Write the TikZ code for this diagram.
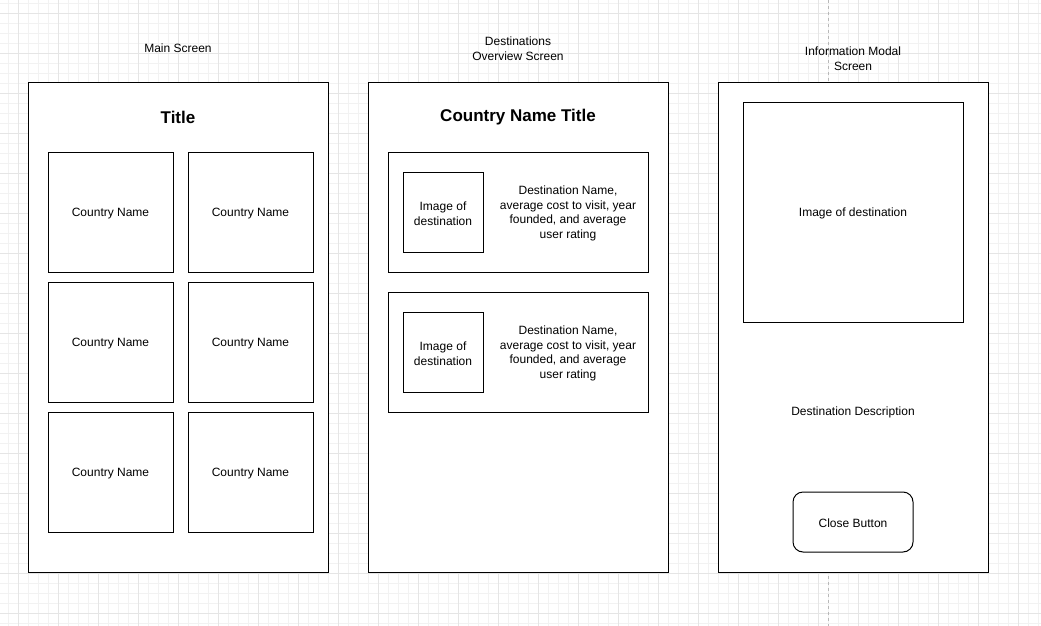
\documentclass[tikz,border=0pt]{standalone}
\usepackage{fontspec}
\setmainfont{Liberation Sans}
\begin{document}
\begin{tikzpicture}[x=1pt,y=-1pt,
  minorline/.style={draw=black!5, line width=0.8pt},
  majorline/.style={draw=black!10, line width=0.8pt},
  pagebreak/.style={draw=black!28, line width=0.8pt, dash pattern=on 3pt off 3pt},
  screenbox/.style={draw=black, fill=white, line width=1pt, inner sep=0pt},
  itembox/.style={draw=black, fill=white, line width=1pt, inner sep=0pt},
  closebtn/.style={itembox, rounded corners=10pt},
  lbl/.style={align=center, inner sep=0pt, yshift=-1.5pt, font=\fontsize{12}{14.7}\selectfont},
  ttl/.style={align=center, inner sep=0pt, yshift=-1.5pt, font=\fontsize{17}{19}\selectfont\bfseries}]
\useasboundingbox (0,0) rectangle (1041,626);
\fill[white] (0,0) rectangle (1041,626);
% grid
\foreach \gx in {8,18,...,1040} {\draw[minorline] (\gx,0) -- (\gx,626);}
\foreach \gy in {3,13,...,625} {\draw[minorline] (0,\gy) -- (1041,\gy);}
\foreach \gx in {18,58,...,1040} {\draw[majorline] (\gx,0) -- (\gx,626);}
\foreach \gy in {13,53,...,625} {\draw[majorline] (0,\gy) -- (1041,\gy);}
% page break
\coordinate (pbtop) at (828,0);
\coordinate (pbbot) at (828,626);
\draw[pagebreak] (pbtop) -- (pbbot);

% screen 1
\node[lbl] (l1) at (178,47) {Main Screen};
\node[screenbox, minimum width=300, minimum height=490] (s1) at (178,327) {};
\node[ttl] (t1) at (178,116) {Title};
\node[itembox, minimum width=125, minimum height=120] (c11) at (110.5,212) {};
\node[itembox, minimum width=125, minimum height=120] (c12) at (250.5,212) {};
\node[itembox, minimum width=125, minimum height=120] (c21) at (110.5,342) {};
\node[itembox, minimum width=125, minimum height=120] (c22) at (250.5,342) {};
\node[itembox, minimum width=125, minimum height=120] (c31) at (110.5,472) {};
\node[itembox, minimum width=125, minimum height=120] (c32) at (250.5,472) {};
\node[lbl] (c11t) at (c11) {Country Name};
\node[lbl] (c12t) at (c12) {Country Name};
\node[lbl] (c21t) at (c21) {Country Name};
\node[lbl] (c22t) at (c22) {Country Name};
\node[lbl] (c31t) at (c31) {Country Name};
\node[lbl] (c32t) at (c32) {Country Name};

% screen 2
\node[lbl] (l2) at (518,47) {Destinations\\Overview Screen};
\node[screenbox, minimum width=300, minimum height=490] (s2) at (518,327) {};
\node[ttl] (t2) at (518,116) {Country Name Title};
\node[itembox, minimum width=260, minimum height=120] (d1) at (518,212) {};
\node[itembox, minimum width=80, minimum height=80] (i1) at (443,212) {};
\node[lbl] (i1t) at (i1) {Image of\\destination};
\node[lbl] (x1) at (568,212) {Destination Name,\\average cost to visit, year\\founded, and average\\user rating};
\node[itembox, minimum width=260, minimum height=120] (d2) at (518,352) {};
\node[itembox, minimum width=80, minimum height=80] (i2) at (443,352) {};
\node[lbl] (i2t) at (i2) {Image of\\destination};
\node[lbl] (x2) at (568,352) {Destination Name,\\average cost to visit, year\\founded, and average\\user rating};

% screen 3
\node[lbl] (l3) at (853,57) {Information Modal\\Screen};
\node[screenbox, minimum width=270, minimum height=490] (s3) at (853,327) {};
\node[itembox, minimum width=220, minimum height=220] (im) at (853,212) {};
\node[lbl] (imt) at (im) {Image of destination};
\node[lbl] (dd) at (853,411) {Destination Description};
\node[closebtn, minimum width=120, minimum height=60] (cb) at (853,522) {};
\node[lbl] (cbt) at (cb) {Close Button};
\end{tikzpicture}
\end{document}
